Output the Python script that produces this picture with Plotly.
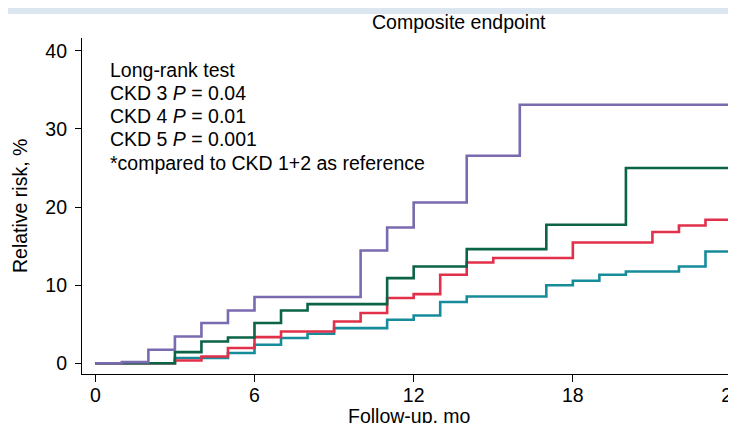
import plotly.graph_objects as go

# Data (months, cumulative relative risk %)
purple_t = [0, 1, 2, 3, 4, 5, 6, 10, 11, 12, 14, 16, 24.3]
purple_v = [0, 0.15, 1.73, 3.43, 5.15, 6.76, 8.48, 14.44, 17.39, 20.59, 26.57, 33.1, 33.1]

green_t = [0, 3, 4, 5, 6, 7, 8, 11, 12, 14, 17, 20, 24.3]
green_v = [0, 1.43, 2.79, 3.30, 5.15, 6.76, 7.58, 10.9, 12.39, 14.62, 17.73, 25.0, 25.0]

red_t = [0, 3, 4, 5, 6, 7, 9, 10, 11, 12, 13, 14, 15, 18, 21, 22, 23, 24.3]
red_v = [0, 0.36, 0.87, 1.95, 3.35, 4.07, 5.35, 6.43, 8.35, 8.86, 11.33, 12.9, 13.47, 15.47, 16.8, 17.64, 18.37, 18.37]

teal_t = [0, 3, 5, 6, 7, 8, 9, 11, 12, 13, 14, 17, 18, 19, 20, 22, 23, 24.3]
teal_v = [0, 0.67, 1.31, 2.37, 3.23, 3.78, 4.5, 5.57, 6.12, 7.84, 8.55, 10.0, 10.56, 11.33, 11.75, 12.39, 14.31, 14.31]

x_ticks = [0, 6, 12, 18, 24]
y_ticks = [0, 10, 20, 30, 40]

note_lines = [
    "Long-rank test",
    "CKD 3 <i>P</i> = 0.04",
    "CKD 4 <i>P</i> = 0.01",
    "CKD 5 <i>P</i> = 0.001",
    "*compared to CKD 1+2 as reference",
]
note_y = [37.5, 34.6, 31.7, 28.7, 25.7]

FONT = "Liberation Sans, Arial, sans-serif"
FS = 19.5

fig = go.Figure()
series = [
    (teal_t, teal_v, "#168c9a"),
    (red_t, red_v, "#e2304b"),
    (green_t, green_v, "#0b6446"),
    (purple_t, purple_v, "#7a6aaf"),
]
for t, v, c in series:
    fig.add_trace(go.Scatter(x=t, y=v, mode="lines", line=dict(color=c, width=2.6, shape="hv"),
                             showlegend=False, hoverinfo="skip"))

annotations = []
for txt, yy in zip(note_lines, note_y):
    annotations.append(dict(x=0.48, y=yy, xref="x", yref="y", text=txt, showarrow=False,
                            xanchor="left", yanchor="middle",
                            font=dict(family=FONT, size=FS, color="black")))
annotations.append(dict(x=0.5765, y=1.0476, xref="paper", yref="paper", text="Composite endpoint",
                        showarrow=False, xanchor="center", yanchor="middle",
                        font=dict(family=FONT, size=FS, color="black")))
annotations.append(dict(x=0.5015, y=-0.125, xref="paper", yref="paper", text="Follow-up, mo",
                        showarrow=False, xanchor="center", yanchor="middle",
                        font=dict(family=FONT, size=FS, color="black")))
annotations.append(dict(x=-0.0948, y=0.5, xref="paper", yref="paper", text="Relative risk, %",
                        showarrow=False, xanchor="center", yanchor="middle", textangle=-90,
                        font=dict(family=FONT, size=FS, color="black")))

fig.update_layout(
    width=736, height=423,
    margin=dict(l=74, r=8, t=30, b=57, autoexpand=False),
    paper_bgcolor="white", plot_bgcolor="white",
    font=dict(family=FONT, size=FS, color="black"),
    annotations=annotations,
    shapes=[dict(type="rect", xref="paper", yref="paper", x0=-0.2, x1=1.05, y0=1.0714, y1=1.0893,
                 fillcolor="#dce6f0", line=dict(width=0), layer="below")],
    xaxis=dict(range=[-0.502, 24.15], tickvals=x_ticks, ticktext=[str(v) for v in x_ticks],
               showgrid=False, zeroline=False, showline=True, linecolor="black", linewidth=1.2,
               ticks="outside", ticklen=7, tickcolor="black", tickwidth=1.2, automargin=False,
               ticklabelstandoff=-4),
    yaxis=dict(range=[-1.37, 41.64], tickvals=y_ticks, ticktext=[str(v) for v in y_ticks],
               showgrid=False, zeroline=False, showline=True, linecolor="black", linewidth=1.2,
               ticks="outside", ticklen=6, tickcolor="black", tickwidth=1.2, automargin=False,
               ticklabelstandoff=4),
)

fig.write_html("out.html")
